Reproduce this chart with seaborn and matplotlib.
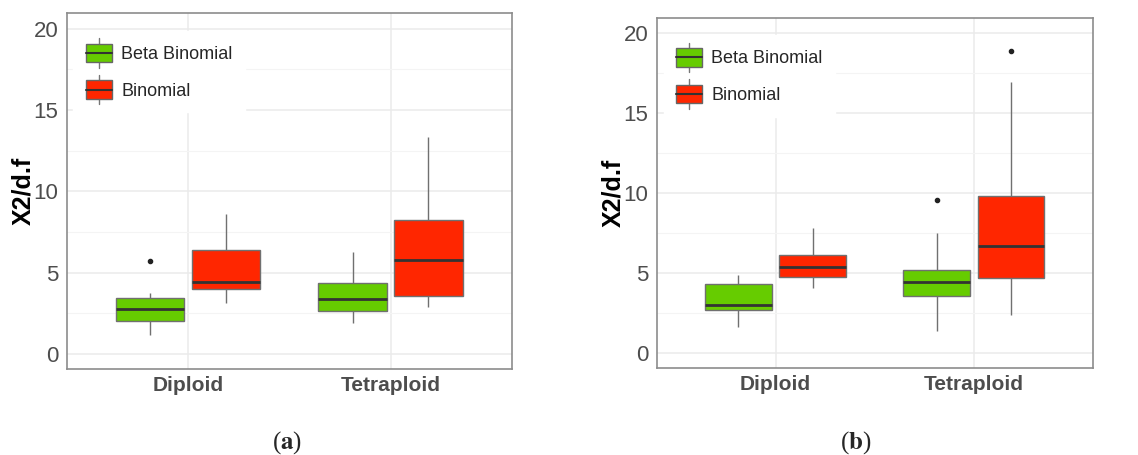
import numpy as np
import pandas as pd
import seaborn as sns
import matplotlib.pyplot as plt
from matplotlib.patches import Patch, Rectangle
from matplotlib.lines import Line2D
from matplotlib.legend_handler import HandlerBase
from matplotlib.ticker import MultipleLocator

# Box summaries, order: Diploid/Beta, Diploid/Binom, Tetraploid/Beta, Tetraploid/Binom
groups = ["Diploid", "Diploid", "Tetraploid", "Tetraploid"]
models = ["Beta Binomial", "Binomial", "Beta Binomial", "Binomial"]

# panel (a)
a_low = [1.17, 3.15, 1.88, 2.86]
a_q1 = [2.04, 3.99, 2.62, 3.54]
a_med = [2.76, 4.40, 3.36, 5.77]
a_q3 = [3.42, 6.38, 4.34, 8.22]
a_high = [3.76, 8.59, 6.28, 13.33]
a_out = [5.72, None, None, None]

# panel (b)
b_low = [1.57, 4.04, 1.36, 2.37]
b_q1 = [2.66, 4.71, 3.52, 4.65]
b_med = [2.95, 5.34, 4.44, 6.68]
b_q3 = [4.27, 6.09, 5.18, 9.78]
b_high = [4.88, 7.77, 7.48, 16.90]
b_out = [None, None, 9.57, 18.85]

colors = {"Beta Binomial": "#66CC00", "Binomial": "#FF2600"}


def make_frame(low, q1, med, q3, high, out):
    # 9 samples per box so the quartiles land exactly on the read values
    rows = []
    for i in range(len(groups)):
        last = out[i] if out[i] is not None else high[i]
        vals = [low[i], q1[i], q1[i], med[i], med[i], q3[i], q3[i], high[i], last]
        for v in vals:
            rows.append({"ploidy": groups[i], "model": models[i], "value": v})
    return pd.DataFrame(rows)


class BoxHandler(HandlerBase):
    def create_artists(self, legend, orig_handle, xdescent, ydescent,
                       width, height, fontsize, trans):
        x0, y0 = -xdescent, -ydescent
        xc = x0 + width / 2
        arts = [
            Line2D([xc, xc], [y0 - height * 0.3, y0 + height * 1.3],
                   color="#777777", lw=1, transform=trans),
            Rectangle((x0, y0), width, height, facecolor=orig_handle.get_facecolor(),
                      edgecolor="#666666", lw=1, transform=trans),
            Line2D([x0, x0 + width], [y0 + height / 2] * 2,
                   color="#333333", lw=1.5, transform=trans),
        ]
        return arts


sns.set_theme(style="whitegrid")
plt.rcParams["font.family"] = ["Liberation Sans", "DejaVu Sans"]

fig = plt.figure(figsize=(11.38, 4.55), dpi=100)
ax_a = fig.add_axes([0.0586, 0.1884, 0.3913, 0.7824])
ax_b = fig.add_axes([0.5771, 0.1919, 0.3831, 0.7692])

panels = [
    (ax_a, make_frame(a_low, a_q1, a_med, a_q3, a_high, a_out)),
    (ax_b, make_frame(b_low, b_q1, b_med, b_q3, b_high, b_out)),
]

for ax, df in panels:
    sns.boxplot(data=df, x="ploidy", y="value", hue="model",
                order=["Diploid", "Tetraploid"],
                hue_order=["Beta Binomial", "Binomial"],
                palette=colors, width=0.75, gap=0.1, ax=ax,
                linecolor="#707070", linewidth=1, showcaps=False, saturation=1,
                medianprops=dict(color="#333333", linewidth=2),
                flierprops=dict(marker="o", markersize=3, markerfacecolor="#222222",
                                markeredgecolor="#222222"))
    ax.set_xlim(-0.6, 1.6)
    ax.set_ylim(-0.95, 20.95)
    ax.yaxis.set_major_locator(MultipleLocator(5))
    ax.yaxis.set_minor_locator(MultipleLocator(2.5))
    ax.grid(True, which="major", color="#EBEBEB", linewidth=1.1)
    ax.grid(True, which="minor", axis="y", color="#F4F4F4", linewidth=0.8)
    ax.set_axisbelow(True)
    for s in ax.spines.values():
        s.set_color("#8C8C8C")
        s.set_linewidth(1.2)
    ax.tick_params(axis="both", which="major", length=3, color="#8C8C8C", width=1)
    ax.tick_params(axis="y", which="minor", length=0)
    ax.tick_params(axis="y", labelsize=16, labelcolor="#4D4D4D", pad=3)
    ax.tick_params(axis="x", labelsize=15, labelcolor="#4D4D4D", pad=2)
    for lab in ax.get_xticklabels():
        lab.set_fontweight("bold")
    ax.set_xlabel("")
    ax.set_ylabel("Χ2/d.f", fontsize=18, fontweight="bold", color="black", labelpad=-1)
    handles = [Patch(facecolor=colors["Beta Binomial"]), Patch(facecolor=colors["Binomial"])]
    leg = ax.legend(handles, ["Beta Binomial", "Binomial"], loc="upper left",
                    bbox_to_anchor=(-0.005, 0.975), frameon=True, fancybox=False,
                    handler_map={Patch: BoxHandler()}, fontsize=13,
                    handlelength=1.45, handleheight=1.2, labelspacing=0.95,
                    handletextpad=0.5, borderpad=0.7)
    leg.get_frame().set_facecolor("white")
    leg.get_frame().set_edgecolor("white")
    leg.get_frame().set_alpha(1)

fig.text(0.252, 0.015, r"($\bf{a}$)", ha="center", fontsize=18,
         family="Liberation Serif", math_fontfamily="stix")
fig.text(0.752, 0.015, r"($\bf{b}$)", ha="center", fontsize=18,
         family="Liberation Serif", math_fontfamily="stix")

fig.savefig("out.png", dpi=100)
